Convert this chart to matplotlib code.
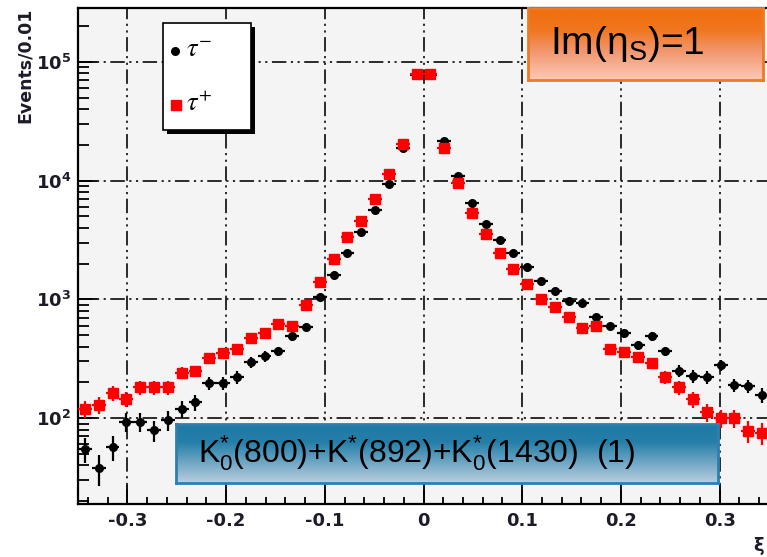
import numpy as np
import matplotlib
matplotlib.use('Agg')
import matplotlib.pyplot as plt
from matplotlib.lines import Line2D
from matplotlib.patches import Rectangle

plt.rcParams['font.family'] = ['Liberation Sans', 'DejaVu Sans']
plt.rcParams['mathtext.fontset'] = 'custom'
plt.rcParams['mathtext.rm'] = 'Liberation Sans'
plt.rcParams['mathtext.it'] = 'Liberation Sans:italic'
plt.rcParams['mathtext.bf'] = 'DejaVu Sans:bold'

# histogram: 50 bins between -0.35 and 0.35
n_bins = 50
x_lo, x_hi = -0.35, 0.35

# tau- (black dots)
tau_minus = [55, 38, 57, 93, 93, 79, 96, 119, 136, 197,
             197, 221, 296, 332, 365, 489, 582, 1040, 1590, 2440,
             3660, 5600, 9440, 18900, 78000, 78000, 21700, 11000, 6530, 4350,
             3190, 2440, 1860, 1420, 1170, 962, 925, 706, 593, 518,
             410, 489, 366, 251, 225, 221, 279, 189, 186, 156]

# tau+ (red squares)
tau_plus = [119, 129, 162, 145, 182, 182, 182, 240, 248, 319,
            352, 380, 470, 518, 617, 593, 891, 1390, 2170, 3320,
            4610, 7060, 11450, 20500, 79200, 79200, 18900, 9620, 5380, 3520,
            2440, 1790, 1340, 1000, 857, 706, 570, 593, 380, 359,
            326, 290, 221, 182, 144, 112, 100, 100, 78, 75]

y_ticks = [1e2, 1e3, 1e4, 1e5]
y_tick_labels = [r'$\mathbf{10^{2}}$', r'$\mathbf{10^{3}}$', r'$\mathbf{10^{4}}$', r'$\mathbf{10^{5}}$']
x_ticks = [-0.3, -0.2, -0.1, 0, 0.1, 0.2, 0.3]
x_tick_labels = ['-0.3', '-0.2', '-0.1', '0', '0.1', '0.2', '0.3']

W, H = 767, 557
lab_color = '#1c1c28'


def fbox(x0, y0, x1, y1):
    # pixel box (top-left origin) -> figure fraction [l, b, w, h]
    return [x0 / W, 1 - y1 / H, (x1 - x0) / W, (y1 - y0) / H]


def ramp(stops, n=200):
    pos = np.array([s[0] for s in stops])
    cols = np.array([s[1] for s in stops]) / 255.0
    t = np.linspace(0, 1, n)
    img = np.stack([np.interp(t, pos, cols[:, k]) for k in range(3)], axis=1)
    return img[:, None, :]


edges = np.linspace(x_lo, x_hi, n_bins + 1)
centers = 0.5 * (edges[:-1] + edges[1:])
half = 0.5 * (edges[1] - edges[0])
tm = np.array(tau_minus, dtype=float)
tp = np.array(tau_plus, dtype=float)

fig = plt.figure(figsize=(W / 100, H / 100), dpi=100)
fig.patch.set_facecolor('white')
ax = fig.add_axes(fbox(78, 8, 769, 504))
ax.set_facecolor('#f4f4f4')

ax.errorbar(centers, tm, xerr=half, yerr=1.8 * np.sqrt(tm), fmt='o', color='black',
            ms=5.5, elinewidth=1.6, capsize=0, zorder=3)
ax.errorbar(centers, tp, xerr=half, yerr=1.8 * np.sqrt(tp), fmt='s', color='#ff0000',
            ms=7, elinewidth=1.6, capsize=0, zorder=4)

ax.set_yscale('log')
ax.set_xlim(x_lo, x_hi)
ax.set_ylim(18.9, 2.84e5)
ax.set_xticks(x_ticks)
ax.set_xticklabels(x_tick_labels, fontsize=13, fontweight='bold', color=lab_color,
                   family='DejaVu Sans')
ax.set_xticks(np.arange(-0.34, 0.35, 0.02), minor=True)
ax.set_yticks(y_ticks)
ax.set_yticklabels(y_tick_labels, fontsize=13, color=lab_color)
ax.tick_params(axis='both', which='both', direction='in', width=1.3, color='black')
ax.tick_params(axis='x', which='major', length=14, pad=6)
ax.tick_params(axis='x', which='minor', length=5)
ax.tick_params(axis='y', which='major', length=14, pad=5)
ax.tick_params(axis='y', which='minor', length=8, labelleft=False)
ax.grid(True, which='major', color='#1a1a1a', linewidth=1.3,
        linestyle=(0, (8, 2.5, 1.2, 2.5, 1.2, 2.5)))
ax.set_axisbelow(True)
for s in ax.spines.values():
    s.set_linewidth(1.6)

# y title and x title (ROOT style)
fig.text(25 / W, 1 - 8 / H, 'Events/0.01', rotation=90, ha='center', va='top',
         fontsize=12.5, fontweight='bold', color=lab_color, family='DejaVu Sans')
fig.text(764 / W, 1 - 546 / H, 'ξ', ha='right', va='center', fontsize=13,
         fontweight='bold', color=lab_color, family='DejaVu Sans')

# legend box with shadow
fig.add_artist(Rectangle((167 / W, 1 - 134 / H), 88 / W, 107 / H,
                         transform=fig.transFigure, facecolor='black', edgecolor='none', zorder=5))
fig.add_artist(Rectangle((163 / W, 1 - 130 / H), 88 / W, 107 / H,
                         transform=fig.transFigure, facecolor='white', edgecolor='black',
                         linewidth=1.2, zorder=6))
fig.add_artist(Line2D([175 / W], [1 - 51 / H], marker='o', color='black', ms=5.5,
                      transform=fig.transFigure, zorder=7))
fig.add_artist(Line2D([176 / W], [1 - 105 / H], marker='s', color='#ff0000', ms=7,
                      transform=fig.transFigure, zorder=7))
fig.text(186 / W, 1 - 50 / H, r'$\tau^{-}$', ha='left', va='center', fontsize=19,
         math_fontfamily='stix', zorder=8)
fig.text(186 / W, 1 - 104 / H, r'$\tau^{+}$', ha='left', va='center', fontsize=19,
         math_fontfamily='stix', zorder=8)

# orange label box
ob = fig.add_axes(fbox(528, 8, 763, 80), zorder=10)
ob.imshow(ramp([(0, (240, 110, 14)), (0.3, (240, 118, 30)), (0.6, (242, 150, 110)),
                (1, (252, 202, 182))]), aspect='auto', extent=[0, 1, 0, 1])
ob.set_xticks([])
ob.set_yticks([])
for s in ob.spines.values():
    s.set_color('#ee7a22')
    s.set_linewidth(2)
ob.text(22 / 235, 0.5, r'Im($\mathrm{\eta_{S}}$)=1', ha='left', va='center', fontsize=28,
        transform=ob.transAxes)

# blue label box
bb = fig.add_axes(fbox(176, 424, 718, 483), zorder=10)
bb.imshow(ramp([(0, (30, 122, 166)), (0.3, (36, 126, 168)), (1, (186, 206, 224))]),
          aspect='auto', extent=[0, 1, 0, 1])
bb.set_xticks([])
bb.set_yticks([])
for s in bb.spines.values():
    s.set_color('#2f7fae')
    s.set_linewidth(2)
bb.text(22 / 542, 0.5, r'K$^{*}_{0}$(800)+K$^{*}$(892)+K$^{*}_{0}$(1430)  (1)', ha='left',
        va='center', fontsize=23, transform=bb.transAxes)

fig.savefig('out.png', dpi=100)
